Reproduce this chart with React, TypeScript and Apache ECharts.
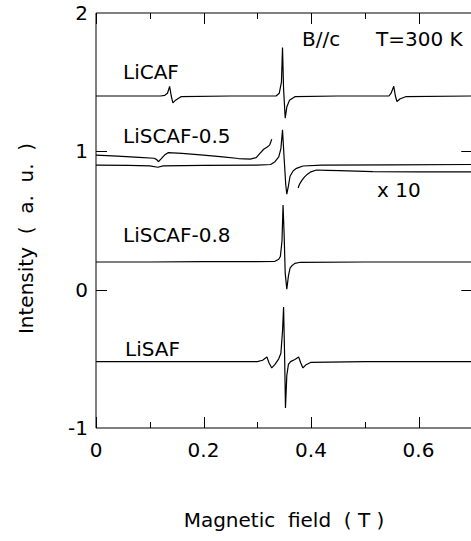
import React, { useEffect, useRef } from "react";
import * as echarts from "echarts";

// x: magnetic field (T), y: intensity (a.u.)
const liCAF: [number, number][] = [
  [0, 1.40], [0.06, 1.40], [0.12, 1.40], [0.128, 1.405], [0.133, 1.42], [0.137, 1.47], [0.140, 1.40],
  [0.143, 1.35], [0.148, 1.37], [0.158, 1.395], [0.25, 1.40], [0.335, 1.40], [0.341, 1.42],
  [0.345, 1.50], [0.347, 1.75], [0.349, 1.45], [0.352, 1.24], [0.355, 1.32], [0.36, 1.37],
  [0.37, 1.395], [0.45, 1.40], [0.545, 1.40], [0.549, 1.42], [0.554, 1.47], [0.557, 1.40],
  [0.560, 1.36], [0.566, 1.38], [0.576, 1.395], [0.7, 1.40],
];

const liSCAF05: [number, number][] = [
  [0, 0.90], [0.06, 0.898], [0.10, 0.895], [0.115, 0.885], [0.125, 0.895], [0.2, 0.898],
  [0.30, 0.90], [0.325, 0.905], [0.333, 0.925], [0.340, 0.96], [0.344, 1.02], [0.347, 1.155],
  [0.350, 0.95], [0.353, 0.76], [0.355, 0.69], [0.358, 0.75], [0.361, 0.82], [0.367, 0.86],
  [0.373, 0.877], [0.385, 0.894], [0.42, 0.90], [0.55, 0.902], [0.7, 0.905],
];

const liSCAF05x10Low: [number, number][] = [
  [0, 0.973], [0.04, 0.965], [0.08, 0.957], [0.108, 0.95], [0.113, 0.94], [0.116, 0.925],
  [0.121, 0.945], [0.128, 0.975], [0.134, 0.99], [0.16, 0.985], [0.2, 0.972], [0.236, 0.96],
  [0.265, 0.948], [0.287, 0.944], [0.298, 0.955], [0.305, 0.985], [0.312, 1.015],
  [0.318, 1.03], [0.323, 1.045], [0.327, 1.087],
];

const liSCAF05x10High: [number, number][] = [
  [0.376, 0.735], [0.379, 0.765], [0.383, 0.79], [0.388, 0.815], [0.392, 0.83],
  [0.40, 0.852], [0.41, 0.865], [0.43, 0.863], [0.453, 0.86], [0.515, 0.853],
  [0.6, 0.852], [0.7, 0.852],
];

const liSCAF08: [number, number][] = [
  [0, 0.20], [0.1, 0.20], [0.2, 0.202], [0.3, 0.202], [0.333, 0.205], [0.340, 0.22],
  [0.343, 0.24], [0.346, 0.35], [0.348, 0.612], [0.350, 0.40], [0.352, 0.12], [0.355, 0.003],
  [0.358, 0.10], [0.361, 0.155], [0.365, 0.175], [0.37, 0.19], [0.38, 0.198], [0.5, 0.20],
  [0.7, 0.20],
];

const liSAF: [number, number][] = [
  [0, -0.52], [0.1, -0.52], [0.2, -0.52], [0.30, -0.52], [0.31, -0.51], [0.318, -0.487],
  [0.322, -0.53], [0.327, -0.566], [0.333, -0.54], [0.340, -0.50], [0.344, -0.46],
  [0.347, -0.30], [0.349, -0.125], [0.351, -0.50], [0.3525, -0.855], [0.355, -0.62],
  [0.358, -0.54], [0.362, -0.52], [0.37, -0.505], [0.377, -0.487], [0.381, -0.53],
  [0.385, -0.566], [0.390, -0.545], [0.40, -0.525], [0.5, -0.52], [0.7, -0.52],
];

// Tick positions (the figure is cropped at B = 0.7 T; the axis runs on to 0.8 off the page).
const xMajorTicks = [0, 0.2, 0.4, 0.6];
const xMinorTicks = [0.1, 0.3, 0.5];
const yTicks = [0, 1];
const X_MIN = 0;
const X_MAX = 0.8;
const X_EDGE = 0.7;
const X_STEP = 0.2;
const Y_MIN = -1;
const Y_MAX = 2;
const Y_STEP = 1;

const FONT = "'DejaVu Sans', 'Liberation Sans', Arial, sans-serif";

export default function App() {
  const ref = useRef<HTMLDivElement>(null);
  useEffect(() => {
    document.body.style.margin = "0";
    const chart = echarts.init(ref.current!, undefined, { renderer: "svg" });
    const series: any[] = [
      liCAF, liSCAF05, liSCAF05x10Low, liSCAF05x10High, liSCAF08, liSAF,
    ].map((d) => ({
      type: "line" as const,
      data: d,
      showSymbol: false,
      symbol: "none",
      lineStyle: { color: "#000", width: 1.2 },
      xAxisIndex: 0,
      yAxisIndex: 0,
    }));

    // Inward ticks on all four sides, placed through the axes' scales.
    const tickData = [
      ...xMajorTicks.map((v) => [0, v]),
      ...xMinorTicks.map((v) => [1, v]),
      ...yTicks.map((v) => [2, v]),
    ];
    series.push({
      type: "custom",
      silent: true,
      clip: false,
      xAxisIndex: 0,
      yAxisIndex: 0,
      encode: { x: -1, y: -1 },
      data: tickData,
      renderItem: (params: any, api: any) => {
        const kind = api.value(0);
        const v = api.value(1);
        const cs = params.coordSys;
        const style = { stroke: "#000", lineWidth: 1 };
        if (kind === 2) {
          const py = Math.round(api.coord([X_MIN, v])[1]) + 0.5;
          const xl = cs.x;
          const xr = api.coord([X_EDGE, v])[0];
          return {
            type: "group",
            children: [
              { type: "line", shape: { x1: xl, y1: py, x2: xl + 11, y2: py }, style },
              { type: "line", shape: { x1: xr - 11, y1: py, x2: xr, y2: py }, style },
            ],
          };
        }
        const len = kind === 0 ? 11 : 6;
        const px = Math.round(api.coord([v, Y_MIN])[0]) + 0.5;
        const yb = cs.y + cs.height;
        const yt = cs.y;
        return {
          type: "group",
          children: [
            { type: "line", shape: { x1: px, y1: yb, x2: px, y2: yb - len }, style },
            { type: "line", shape: { x1: px, y1: yt, x2: px, y2: yt + len }, style },
          ],
        };
      },
    });

    const txt = (text: string, x: number, y: number, size = 20) => ({
      type: "text",
      x,
      y,
      style: { text, font: `${size}px ${FONT}`, fill: "#000", textVerticalAlign: "middle" },
    });
    const xCommon = {
      type: "value" as const,
      min: X_MIN,
      max: X_MAX,
      interval: X_STEP,
      splitLine: { show: false },
      axisLine: { show: false, onZero: false },
      axisTick: { show: false },
    };
    chart.setOption({
      animation: false,
      textStyle: { fontFamily: FONT },
      grid: {
        left: 96,
        top: 13,
        width: 430,
        height: 415,
        containLabel: false,
        outerBoundsMode: "none",
        show: true,
        borderColor: "#000",
        borderWidth: 1,
        backgroundColor: "transparent",
      },
      xAxis: [
        {
          ...xCommon,
          position: "bottom",
          axisLabel: {
            showMaxLabel: false,
            color: "#000",
            fontSize: 20,
            margin: 12,
            fontFamily: FONT,
            formatter: (v: number) => (v > 0.75 ? "" : String(+v.toFixed(1))),
          },
          name: "Magnetic  field  ( T )",
          nameLocation: "middle",
          nameGap: 82,
          nameTextStyle: {
            fontSize: 20,
            color: "#000",
            fontFamily: FONT,
            padding: [0, 54, 0, 0],
          },
        },
        {
          ...xCommon,
          position: "top",
          axisLabel: { show: false },
        },
      ],
      yAxis: [
        {
          type: "value",
          min: Y_MIN,
          max: Y_MAX,
          interval: Y_STEP,
          position: "left",
          splitLine: { show: false },
          axisLine: { show: false, onZero: false },
          axisTick: { show: false },
          axisLabel: { color: "#000", fontSize: 20, margin: 8, fontFamily: FONT },
          name: "Intensity  (  a.  u.  )",
          nameLocation: "middle",
          nameGap: 60,
          nameTextStyle: { fontSize: 20, color: "#000", fontFamily: FONT, padding: [0, 36, 0, 0] },
        },
      ],
      series,
      graphic: [
        txt("B//c", 302, 39),
        txt("T=300 K", 376, 39),
        txt("LiCAF", 123, 72),
        txt("LiSCAF-0.5", 123, 136),
        txt("x 10", 377, 190),
        txt("LiSCAF-0.8", 123, 235),
        txt("LiSAF", 125, 349),
      ],
    });
    return () => chart.dispose();
  }, []);
  return (
    <div
      ref={ref}
      style={{ position: "absolute", left: 0, top: 0, width: 471, height: 541 }}
    />
  );
}
